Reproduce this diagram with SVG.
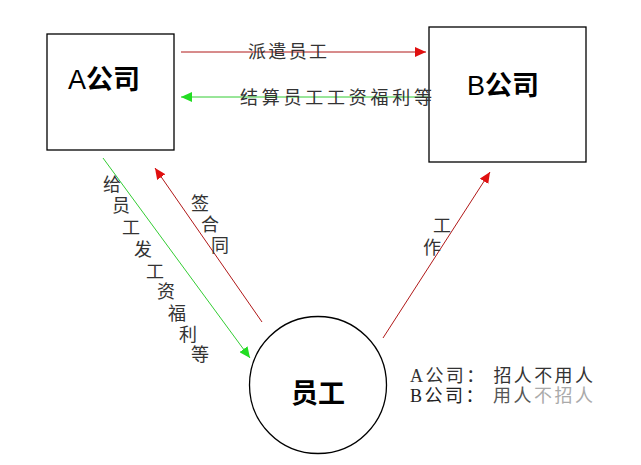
<svg xmlns="http://www.w3.org/2000/svg" width="641" height="465" viewBox="0 0 641 465">
<style>
.box{fill:#fff;stroke:#000;stroke-width:1.3}
.title{font-family:"Liberation Sans","Noto Sans CJK SC",sans-serif;font-weight:bold;font-size:27px;fill:#000}
.lbl{font-family:"Liberation Serif","Noto Sans CJK SC",serif;font-size:18px;fill:#333}
.red{stroke:#b01818;stroke-width:1;fill:none}
.green{stroke:#33cc33;stroke-width:1;fill:none}
</style>
<defs>
<marker id="ar" markerUnits="userSpaceOnUse" markerWidth="12" markerHeight="10" refX="11" refY="5" orient="auto"><path d="M0,0 L11,5 L0,10 z" fill="#e01010"/></marker>
<marker id="ag" markerUnits="userSpaceOnUse" markerWidth="12" markerHeight="10" refX="11" refY="5" orient="auto"><path d="M0,0 L11,5 L0,10 z" fill="#22dd22"/></marker>
</defs>
<rect width="641" height="465" fill="#fff"/>
<g id="nodeA"><rect class="box" x="47" y="34" width="127" height="116"/><text class="title" x="104" y="89" text-anchor="middle"><tspan font-weight="normal">A</tspan>公司</text></g>
<g id="nodeB"><rect class="box" x="429" y="27" width="157" height="135"/><text class="title" x="503" y="95" text-anchor="middle"><tspan font-weight="normal">B</tspan>公司</text></g>
<g id="nodeE"><circle class="box" cx="318" cy="385" r="68.5"/><text class="title" x="318" y="403" text-anchor="middle" font-size="28">员工</text></g>
<g id="connectors">
<line class="red" x1="181" y1="52" x2="426" y2="52" marker-end="url(#ar)"/>
<line class="green" x1="428" y1="97" x2="181" y2="97" marker-end="url(#ag)"/>
<line class="green" x1="103" y1="158" x2="250" y2="358" marker-end="url(#ag)"/>
<line class="red" x1="262" y1="322" x2="155" y2="168" marker-end="url(#ar)"/>
<line class="red" x1="383" y1="338" x2="490" y2="172" marker-end="url(#ar)"/>
<text class="lbl" x="248" y="58" font-size="19" textLength="79" lengthAdjust="spacing">派遣员工</text>
<text class="lbl" x="240" y="104" font-size="19" textLength="192" lengthAdjust="spacing">结算员工工资福利等</text>
<g class="lbl" text-anchor="middle">
<text x="112" y="191">给</text><text x="121" y="212">员</text><text x="131" y="234">工</text><text x="143" y="256">发</text><text x="155" y="278">工</text><text x="166" y="298">资</text><text x="177" y="320">福</text><text x="188" y="341">利</text><text x="200" y="361">等</text>
<text x="200" y="210">签</text><text x="210" y="231">合</text><text x="220" y="252">同</text>
<text x="442" y="232">工</text><text x="432" y="254">作</text>
</g>
</g>
<g id="note">
<text class="lbl" x="410" y="382" textLength="183" lengthAdjust="spacing" fill="#222">A公司： 招人不用人</text>
<text class="lbl" x="410" y="402" textLength="183" lengthAdjust="spacing"><tspan fill="#222">B公司： </tspan><tspan fill="#555">用人</tspan><tspan fill="#aaa">不招人</tspan></text>
</g>
</svg>
